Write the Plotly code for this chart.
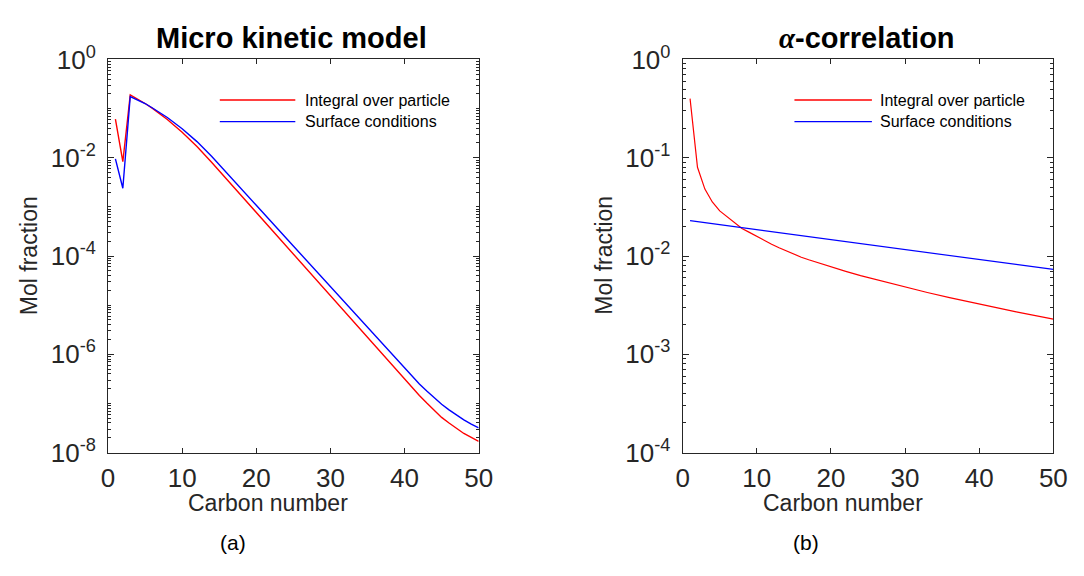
import plotly.graph_objects as go
from plotly.subplots import make_subplots

# ---- data ----
n_mk = [1, 2, 3, 4, 5, 6, 7, 8, 10, 12, 14, 16, 18, 20, 25, 30, 35, 40,
        42, 43, 44, 45, 46, 47, 48, 49, 50]
mk_integral = [6.1e-2, 8.3e-3, 1.9e-1, 1.57e-1, 1.27e-1, 1.01e-1, 7.8e-2, 6.0e-2, 3.3e-2,
               1.69e-2, 8.0e-3, 3.66e-3, 1.67e-3, 7.7e-4, 1.08e-4, 1.53e-5, 2.16e-6,
               3.05e-7, 1.45e-7, 1.02e-7, 7.2e-8, 5.2e-8, 4.0e-8, 3.1e-8, 2.45e-8, 2.05e-8, 1.7e-8]
mk_surface = [9.5e-3, 2.4e-3, 1.76e-1, 1.52e-1, 1.27e-1, 1.03e-1, 8.3e-2, 6.6e-2, 3.9e-2,
              2.13e-2, 1.06e-2, 5.0e-3, 2.31e-3, 1.08e-3, 1.6e-4, 2.37e-5, 3.5e-6,
              5.2e-7, 2.5e-7, 1.8e-7, 1.29e-7, 9.6e-8, 7.4e-8, 5.8e-8, 4.65e-8, 3.8e-8, 3.2e-8]

n_ac_int = [1, 2, 3, 4, 5, 6, 7, 8, 9, 10, 11, 12, 13, 14, 15, 16, 17, 18, 20, 22, 24,
            26, 28, 30, 33, 36, 40, 45, 50]
ac_integral = [0.40, 0.080, 0.048, 0.0355, 0.0288, 0.0250, 0.0216, 0.0191, 0.0174, 0.0158,
               0.01435, 0.0132, 0.01216, 0.01122, 0.01035, 0.00973, 0.00916, 0.00865,
               0.00776, 0.00698, 0.00631, 0.00576, 0.00527, 0.00483, 0.00426, 0.00378,
               0.00323, 0.00270, 0.00228]
n_ac_surf = [1, 10, 20, 30, 40, 50]
ac_surface = [0.0229, 0.0186, 0.0147, 0.0117, 0.0092, 0.0073]

x_ticks = [0, 10, 20, 30, 40, 50]
left_exp = [0, -2, -4, -6, -8]
right_exp = [0, -1, -2, -3, -4]
series_names = ["Integral over particle", "Surface conditions"]

RED = "#ff0000"
BLUE = "#0000ff"
AX = "#262626"
FONT = "Liberation Sans, Arial, Helvetica, sans-serif"
W, H = 1084, 576

fig = make_subplots(rows=1, cols=2)

fig.add_trace(go.Scatter(x=n_mk, y=mk_integral, mode="lines", name=series_names[0],
                         line=dict(color=RED, width=1.4), showlegend=False), 1, 1)
fig.add_trace(go.Scatter(x=n_mk, y=mk_surface, mode="lines", name=series_names[1],
                         line=dict(color=BLUE, width=1.4), showlegend=False), 1, 1)
fig.add_trace(go.Scatter(x=n_ac_int, y=ac_integral, mode="lines", name=series_names[0],
                         line=dict(color=RED, width=1.2), showlegend=False), 1, 2)
fig.add_trace(go.Scatter(x=n_ac_surf, y=ac_surface, mode="lines", name=series_names[1],
                         line=dict(color=BLUE, width=1.2), showlegend=False), 1, 2)

xcommon = dict(range=[0, 50], tickvals=x_ticks, ticks="inside", ticklen=5, tickwidth=1,
               tickcolor=AX, showline=True, linecolor=AX, linewidth=1, mirror="allticks",
               showgrid=False, zeroline=False, ticklabelstandoff=2,
               tickfont=dict(family=FONT, size=26, color=AX))
ycommon = dict(type="log", ticks="inside", ticklen=6, tickwidth=1, tickcolor=AX,
               showline=True, linecolor=AX, linewidth=1, mirror="allticks",
               showgrid=False, zeroline=False, ticklabelstandoff=6,
               minor=dict(ticks="inside", ticklen=3, tickcolor=AX, dtick="D1", showgrid=False),
               tickfont=dict(family=FONT, size=26, color=AX))

fig.update_xaxes(**xcommon, domain=[103/W, 481/W], row=1, col=1)
fig.update_xaxes(**xcommon, domain=[689/W, 1067/W], row=1, col=2)
fig.update_yaxes(**ycommon, range=[-8, 0], tickvals=[10**e for e in left_exp],
                 ticktext=["10<sup>%d</sup>" % e for e in left_exp],
                 domain=[1-461/H, 1-44/H], row=1, col=1)
fig.update_yaxes(**ycommon, range=[-4, 0], tickvals=[10**e for e in right_exp],
                 ticktext=["10<sup>%d</sup>" % e for e in right_exp],
                 domain=[1-461/H, 1-44/H], row=1, col=2)

# axis titles
for xc in (22, 608):
    fig.add_annotation(text="Mol fraction", xref="paper", yref="paper", x=xc/W, y=1-252/H,
                       textangle=-90, showarrow=False, xanchor="center", yanchor="middle",
                       font=dict(family=FONT, size=23, color=AX))
for xc in (266, 853):
    fig.add_annotation(text="Carbon number", xref="paper", yref="paper", x=xc/W, y=1-514/H,
                       showarrow=False, xanchor="center", yanchor="middle",
                       font=dict(family=FONT, size=23, color=AX))

# legends (drawn as line samples + labels inside each axes)
legend_rows = [(87, RED), (110, BLUE)]
for (x0, x1, xt) in ((217, 294, 302), (803, 882, 888)):
    for name, (yy, col) in zip(series_names, legend_rows):
        fig.add_shape(type="line", xref="paper", yref="paper", x0=x0/W, x1=x1/W,
                      y0=1-yy/H, y1=1-yy/H, line=dict(color=col, width=1.3))
        fig.add_annotation(text=name, xref="paper", yref="paper", x=xt/W, y=1-yy/H,
                           showarrow=False, xanchor="left", yanchor="middle",
                           font=dict(family=FONT, size=16, color="#000000"))

fig.add_annotation(text="<b>Micro kinetic model</b>", xref="paper", yref="paper",
                   x=290/W, y=1-21/H, showarrow=False, xanchor="center", yanchor="middle",
                   font=dict(family=FONT, size=29, color="#000000"))
fig.add_annotation(text="<span style=\"font-family:'Liberation Serif'\"><b><i>α</i></b></span><b>-correlation</b>",
                   xref="paper", yref="paper",
                   x=877/W, y=1-21/H, showarrow=False, xanchor="center", yanchor="middle",
                   font=dict(family=FONT, size=29, color="#000000"))
fig.add_annotation(text="(a)", xref="paper", yref="paper", x=230/W, y=1-556/H,
                   showarrow=False, xanchor="center", yanchor="middle",
                   font=dict(family=FONT, size=21, color="#000000"))
fig.add_annotation(text="(b)", xref="paper", yref="paper", x=815/W, y=1-556/H,
                   showarrow=False, xanchor="center", yanchor="middle",
                   font=dict(family=FONT, size=21, color="#000000"))

fig.update_layout(width=W, height=H, margin=dict(l=0, r=0, t=0, b=0),
                  paper_bgcolor="white", plot_bgcolor="white", showlegend=False)

fig.write_html("out.html")
